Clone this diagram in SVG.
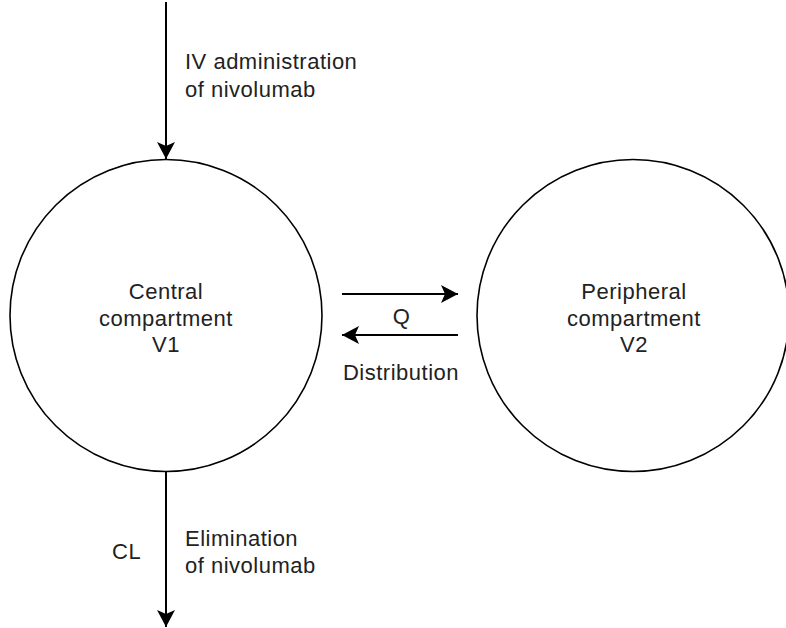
<svg xmlns="http://www.w3.org/2000/svg" width="786" height="628" viewBox="0 0 786 628">
<style>
.node{fill:#ffffff;stroke:#000000;stroke-width:1.6}
.edge{fill:none;stroke:#000000;stroke-width:2}
.t{font-family:"Liberation Sans",Arial,sans-serif;font-size:22px;fill:#222222;letter-spacing:0.5px}
.c{text-anchor:middle}
</style>
<defs>
<marker id="arr" markerUnits="userSpaceOnUse" markerWidth="20" markerHeight="20" viewBox="-18 -10 20 20" refX="0" refY="0" orient="auto">
<path d="M0,0 L-17,-9 L-13,0 L-17,9 Z" fill="#000000"/>
</marker>
</defs>
<rect width="786" height="628" fill="#ffffff"/>
<g id="central">
<circle class="node" cx="166" cy="315.5" r="156"/>
<text class="t c" x="166" y="299">Central</text>
<text class="t c" x="166" y="325.5">compartment</text>
<text class="t c" x="166" y="352">V1</text>
</g>
<g id="peripheral">
<circle class="node" cx="633" cy="315.5" r="156"/>
<text class="t c" x="634" y="299">Peripheral</text>
<text class="t c" x="634" y="325.5">compartment</text>
<text class="t c" x="634" y="352">V2</text>
</g>
<g id="connectors">
<line class="edge" x1="166" y1="2" x2="166" y2="159" marker-end="url(#arr)"/>
<line class="edge" x1="166" y1="472" x2="166" y2="627" marker-end="url(#arr)"/>
<line class="edge" x1="342" y1="294" x2="458" y2="294" marker-end="url(#arr)"/>
<line class="edge" x1="458" y1="335" x2="342" y2="335" marker-end="url(#arr)"/>
</g>
<g id="labels">
<text class="t" x="185" y="69">IV administration</text>
<text class="t" x="185" y="97">of nivolumab</text>
<text class="t c" x="401.5" y="324">Q</text>
<text class="t c" x="401" y="380">Distribution</text>
<text class="t" x="185" y="546">Elimination</text>
<text class="t" x="185" y="573">of nivolumab</text>
<text class="t" x="112" y="559">CL</text>
</g>
</svg>
